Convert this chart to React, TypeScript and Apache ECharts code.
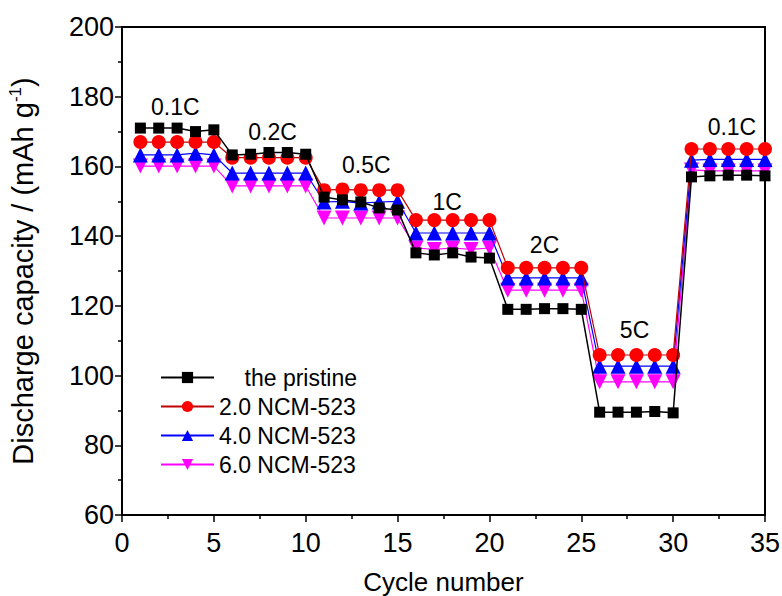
import React, { useEffect, useRef } from "react";
import * as echarts from "echarts";

const cycles = Array.from({ length: 35 }, (_, i) => i + 1);

const pristine = [171, 171, 171, 170, 170.5, 163.3, 163.5, 164, 164, 163.5, 151.2, 150.4, 149.8, 148.1, 147.5, 135.2, 134.6, 135.2, 134.0, 133.7, 119, 119, 119.2, 119.2, 119, 89.5, 89.5, 89.5, 89.7, 89.3, 157, 157.3, 157.5, 157.5, 157.3];
const ncm20 = [167, 167, 167, 167, 167, 162.5, 162.5, 162.5, 162.5, 162.5, 153.2, 153.4, 153.2, 153.2, 153.2, 144.6, 144.6, 144.6, 144.6, 144.6, 130.9, 130.9, 130.9, 130.9, 130.9, 105.9, 105.9, 105.9, 105.9, 105.9, 165, 165, 165, 165, 165];
const ncm40 = [163.3, 163.3, 163.3, 163.8, 163.3, 158.1, 158.1, 158.1, 158.1, 158.1, 149.8, 150, 149.5, 149.8, 150, 140.9, 140.9, 140.9, 140.9, 140.9, 128, 128, 128, 128, 128, 102.7, 102.7, 102.7, 102.7, 102.7, 161.8, 162, 162, 162, 162];
const ncm60 = [160.1, 160.1, 160.1, 160.1, 160.1, 154.4, 154.4, 154.4, 154.4, 154.4, 145.2, 145.2, 145.2, 145.2, 145.2, 136.6, 136.2, 136.6, 136.2, 136.6, 124.5, 124.5, 124.5, 124.5, 124.5, 98.2, 98.2, 98.2, 98.2, 98.2, 159, 158.7, 158.7, 158.7, 158.7];

const seriesNames = ["the pristine", "2.0 NCM-523", "4.0 NCM-523", "6.0 NCM-523"];

const rateLabels = ["0.1C", "0.2C", "0.5C", "1C", "2C", "5C", "0.1C"];
const rateX = [2.9, 8.2, 13.3, 17.7, 23.0, 27.9, 33.2];
const rateY = [177.0, 169.9, 160.4, 149.8, 137.5, 113.1, 171.3];

const xTicks = { min: 0, max: 35, interval: 5 };
const yTicks = { min: 60, max: 200, interval: 20 };

const FONT = "Liberation Sans, Arial, sans-serif";

export default function App() {
  const ref = useRef<HTMLDivElement>(null);
  useEffect(() => {
    if (!ref.current) return;
    const chart = echarts.init(ref.current, undefined, { renderer: "svg" });
    const mk = (vals: number[]) => vals.map((v, i) => [cycles[i], v]);
    const axisCommon = {
      axisLine: { show: true, onZero: false, lineStyle: { color: "#000", width: 2 } },
      axisTick: { show: true, inside: false, length: 7, lineStyle: { color: "#000", width: 1.5 } },
      minorTick: { show: true, splitNumber: 2, length: 4, lineStyle: { color: "#000", width: 1.5 } },
      splitLine: { show: false },
    };
    chart.setOption({
      animation: false,
      backgroundColor: "#fff",
      grid: {
        left: 122, right: 17, top: 27, bottom: 81,
        containLabel: false,
        outerBoundsMode: "none",
        show: true, borderColor: "#000", borderWidth: 2, backgroundColor: "transparent",
      },
      xAxis: {
        type: "value",
        ...xTicks,
        ...axisCommon,
        axisLabel: { color: "#000", fontSize: 27, fontFamily: FONT, margin: 14 },
        name: "Cycle number",
        nameLocation: "middle",
        nameGap: 54,
        nameTextStyle: { color: "#000", fontSize: 26, fontFamily: FONT },
      },
      yAxis: {
        type: "value",
        ...yTicks,
        ...axisCommon,
        axisLabel: { color: "#000", fontSize: 27, fontFamily: FONT, margin: 8 },
        name: "{a|Discharge capacity / (mAh g}{s|-1}{a|)}",
        nameLocation: "middle",
        nameGap: 84,
        nameTextStyle: {
          color: "#000",
          fontFamily: FONT,
          rich: {
            a: { fontSize: 29, fontFamily: FONT, color: "#000" },
            s: { fontSize: 17, fontFamily: FONT, color: "#000", verticalAlign: "top", padding: [0, 0, 14, 0] },
          },
        },
      },
      legend: {
        orient: "vertical",
        left: 155,
        top: 361,
        itemWidth: 53,
        itemHeight: 14,
        itemGap: 6,
        formatter: (n: string) => (n === "the pristine" ? "    " + n : n),
        textStyle: { color: "#000", fontSize: 23, fontFamily: FONT },
        data: seriesNames,
      },
      series: [
        {
          name: seriesNames[0],
          type: "line",
          data: mk(pristine),
          symbol: "rect",
          symbolSize: 11,
          clip: false,
          itemStyle: { color: "#000" },
          lineStyle: { color: "#000", width: 1.5 },
          z: 5,
          markPoint: {
            symbol: "circle",
            symbolSize: 0,
            label: { show: true, position: "inside", color: "#000", fontSize: 23, fontFamily: FONT, formatter: (p: any) => p.name },
            data: rateLabels.map((l, i) => ({ name: l, coord: [rateX[i], rateY[i]] })),
          },
        },
        {
          name: seriesNames[1],
          type: "line",
          data: mk(ncm20),
          symbol: "circle",
          symbolSize: 14,
          clip: false,
          itemStyle: { color: "#ff0000" },
          lineStyle: { color: "#c00000", width: 1.2 },
          z: 4,
        },
        {
          name: seriesNames[2],
          type: "line",
          data: mk(ncm40),
          symbol: "triangle",
          symbolSize: 15,
          clip: false,
          itemStyle: { color: "#0000ff" },
          lineStyle: { color: "#0000ff", width: 1.2 },
          z: 3,
        },
        {
          name: seriesNames[3],
          type: "line",
          data: mk(ncm60),
          symbol: "triangle",
          symbolRotate: 180,
          symbolSize: 15,
          clip: false,
          itemStyle: { color: "#ff00ff" },
          lineStyle: { color: "#ff00ff", width: 1.2 },
          z: 2,
        },
      ],
    });
    return () => chart.dispose();
  }, []);
  return <div ref={ref} style={{ position: "fixed", left: 0, top: 0, width: 782, height: 596 }} />;
}
